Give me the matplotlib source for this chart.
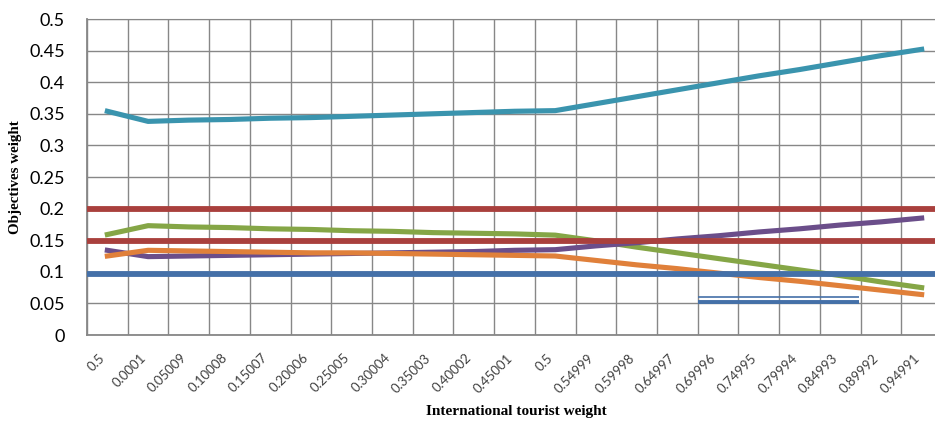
import matplotlib.pyplot as plt
import numpy as np

# x categories (international tourist weight)
categories = ["0.5", "0.0001", "0.05009", "0.10008", "0.15007", "0.20006", "0.25005",
              "0.30004", "0.35003", "0.40002", "0.45001", "0.5", "0.54999", "0.59998",
              "0.64997", "0.69996", "0.74995", "0.79994", "0.84993", "0.89992", "0.94991"]

teal = [0.354, 0.338, 0.340, 0.341, 0.343, 0.344, 0.346, 0.348, 0.350, 0.352, 0.354,
        0.355, 0.366, 0.377, 0.388, 0.399, 0.410, 0.420, 0.431, 0.442, 0.452]
green = [0.159, 0.173, 0.171, 0.170, 0.168, 0.167, 0.165, 0.164, 0.162, 0.161, 0.160,
         0.158, 0.149, 0.139, 0.130, 0.121, 0.112, 0.103, 0.094, 0.084, 0.075]
purple = [0.134, 0.124, 0.125, 0.126, 0.127, 0.128, 0.129, 0.130, 0.131, 0.132, 0.134,
          0.135, 0.141, 0.146, 0.152, 0.157, 0.163, 0.168, 0.174, 0.179, 0.185]
orange = [0.125, 0.134, 0.133, 0.132, 0.131, 0.130, 0.130, 0.129, 0.128, 0.127, 0.126,
          0.125, 0.118, 0.111, 0.105, 0.098, 0.091, 0.085, 0.078, 0.071, 0.064]

# flat reference levels drawn across the whole plot
red_levels = [0.199, 0.148]
blue_level = 0.0965
# small double line near the bottom right (x in category units)
double_x = [14.5, 18.45]
double_y = [0.0595, 0.0527]

yticks = [0, 0.05, 0.1, 0.15, 0.2, 0.25, 0.3, 0.35, 0.4, 0.45, 0.5]
ytick_labels = ["0", "0.05", "0.1", "0.15", "0.2", "0.25", "0.3", "0.35", "0.4", "0.45", "0.5"]

grid_c = "#878787"

fig = plt.figure(figsize=(9.35, 4.25), dpi=100)
ax = fig.add_axes([87 / 935, 1 - 335 / 425, (942 - 87) / 935, (335 - 19) / 425])

x = np.arange(len(categories))
ax.plot(x, teal, color="#3A94AE", lw=3.7, zorder=2)
ax.plot(x, green, color="#85A646", lw=3.7, zorder=2)
ax.plot(x, purple, color="#6B4E8A", lw=3.7, zorder=2)
ax.plot(x, orange, color="#E0803A", lw=3.7, zorder=2)

for lvl in red_levels:
    ax.axhline(lvl, color="#A9403D", lw=4.2, zorder=3)
ax.axhline(blue_level, color="#4470A8", lw=4.2, zorder=3)

ax.hlines(double_y[0], double_x[0], double_x[1], color="#4470A8", lw=1.2, zorder=3)
ax.hlines(double_y[1], double_x[0], double_x[1], color="#4470A8", lw=2.8, zorder=3)

ax.set_xlim(-0.5, len(categories) - 0.5)
ax.set_ylim(0, 0.5)

ax.set_xticks(x)
ax.set_xticklabels(categories, rotation=45, ha="right", va="top",
                   fontsize=9.5, family="Lato", color="#404040")
ax.set_xticks(np.arange(-0.5, len(categories), 1), minor=True)
ax.tick_params(axis="x", which="both", length=0, pad=12)

ax.set_yticks(yticks)
ax.set_yticklabels(ytick_labels, fontsize=13, family="Lato")
ax.tick_params(axis="y", length=0, pad=16)

ax.grid(True, axis="y", color=grid_c, lw=1.0, zorder=0)
ax.grid(True, axis="x", which="minor", color=grid_c, lw=1.0, zorder=0)
ax.set_axisbelow(True)

for side in ["left", "bottom"]:
    ax.spines[side].set_color(grid_c)
    ax.spines[side].set_linewidth(1.3)
ax.spines["top"].set_color(grid_c)
ax.spines["right"].set_visible(False)

fig.text(516 / 935, 1 - 412 / 425, "International tourist weight", ha="center", va="center",
         family="Liberation Serif", fontweight="bold", fontsize=11)
fig.text(15 / 935, 1 - 177 / 425, "Objectives weight", ha="center", va="center",
         rotation=90, family="Liberation Serif", fontweight="bold", fontsize=10.8)

fig.savefig("out.png", dpi=100)
